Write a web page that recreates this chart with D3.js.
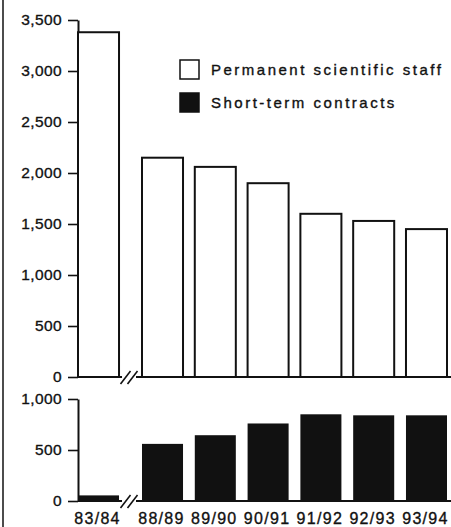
<!DOCTYPE html>
<html>
<head>
<meta charset="utf-8">
<script src="https://cdn.jsdelivr.net/npm/d3@7"></script>
<style>
  html, body { margin: 0; padding: 0; background: #fff; }
  svg { display: block; }
  text { font-family: "Liberation Sans", Arial, Helvetica, sans-serif; fill: #111; stroke: #111; stroke-width: 0.35px; }
</style>
</head>
<body>
<svg id="chart" width="451" height="527"></svg>
<script>
const categories = ["83/84", "88/89", "89/90", "90/91", "91/92", "92/93", "93/94"];
const permanentStaff = [3380, 2150, 2060, 1900, 1600, 1530, 1450];
const shortTermContracts = [55, 560, 645, 760, 850, 840, 840];
const topTicks = [0, 500, 1000, 1500, 2000, 2500, 3000, 3500];
const bottomTicks = [0, 500, 1000];
const legendLabels = ["Permanent scientific staff", "Short-term contracts"];

const svg = d3.select("#chart");
const ink = "#111";

// x scale (band) with a break gap after the first category
const x = d3.scaleBand().domain(categories).range([78, 435.8]).paddingInner(0.223).paddingOuter(0);
const breakGap = 11.2;
const xPos = (c, i) => x(c) + (i > 0 ? breakGap : 0);

const yTop = d3.scaleLinear().domain([0, 3500]).range([377, 20]);
const yBot = d3.scaleLinear().domain([0, 1000]).range([501, 399]);

// frame line on the left
svg.append("line").attr("x1", 3).attr("x2", 3).attr("y1", 0).attr("y2", 527)
  .attr("stroke", ink).attr("stroke-width", 1.5);

function drawAxis(scale, ticks) {
  const g = svg.append("g").attr("transform", "translate(78,0)")
    .call(d3.axisLeft(scale).tickValues(ticks).tickFormat(d3.format(",")).tickSize(10).tickSizeOuter(0).tickPadding(6));
  g.selectAll("path.domain").attr("stroke", ink).attr("stroke-width", 2);
  g.selectAll(".tick line").attr("stroke", ink).attr("stroke-width", 1.6);
  g.selectAll(".tick text").attr("font-size", 15.5).attr("letter-spacing", "0.4px")
    .attr("fill", ink).style("font-family", '"Liberation Sans", Arial, sans-serif');
  return g;
}
drawAxis(yTop, topTicks);
drawAxis(yBot, bottomTicks);

// baselines with break marks
function baseline(y0) {
  const xb1 = xPos(categories[0], 0) + x.bandwidth() + 3;
  const xb2 = xPos(categories[1], 1) - 6;
  svg.append("line").attr("x1", 78).attr("x2", xb1).attr("y1", y0).attr("y2", y0)
    .attr("stroke", ink).attr("stroke-width", 2);
  svg.append("line").attr("x1", xb2).attr("x2", 451).attr("y1", y0).attr("y2", y0)
    .attr("stroke", ink).attr("stroke-width", 2);
  const cx = (xb1 + xb2) / 2;
  [-3.5, 3.5].forEach(off => {
    svg.append("line")
      .attr("x1", cx + off - 5).attr("y1", y0 + 7)
      .attr("x2", cx + off + 5).attr("y2", y0 - 6)
      .attr("stroke", ink).attr("stroke-width", 1.6);
  });
}
baseline(yTop(0));
baseline(yBot(0));

// top bars (permanent staff)
svg.append("g").selectAll("rect").data(permanentStaff).join("rect")
  .attr("x", (d, i) => xPos(categories[i], i))
  .attr("y", d => yTop(d))
  .attr("width", x.bandwidth())
  .attr("height", d => yTop(0) - yTop(d))
  .attr("fill", "#fff").attr("stroke", ink).attr("stroke-width", 2);

// bottom bars (short-term contracts)
svg.append("g").selectAll("rect").data(shortTermContracts).join("rect")
  .attr("x", (d, i) => xPos(categories[i], i))
  .attr("y", d => yBot(d))
  .attr("width", x.bandwidth())
  .attr("height", d => yBot(0) - yBot(d))
  .attr("fill", ink);

// x labels
svg.append("g").selectAll("text").data(categories).join("text")
  .attr("x", (c, i) => xPos(c, i) + x.bandwidth() / 2 - 1)
  .attr("y", 523.5)
  .attr("text-anchor", "middle")
  .attr("font-size", 16)
  .attr("letter-spacing", "1.3px")
  .text(d => d);

// legend
const legend = svg.append("g");
legendLabels.forEach((lab, i) => {
  const ly = 60 + i * 33;
  legend.append("rect").attr("x", 180).attr("y", ly).attr("width", 19).attr("height", 19)
    .attr("fill", i === 0 ? "#fff" : ink).attr("stroke", ink).attr("stroke-width", 1.5);
  legend.append("text").attr("x", 211).attr("y", ly + 15)
    .attr("font-size", 15).attr("letter-spacing", "2.5px").text(lab);
});
</script>
</body>
</html>
